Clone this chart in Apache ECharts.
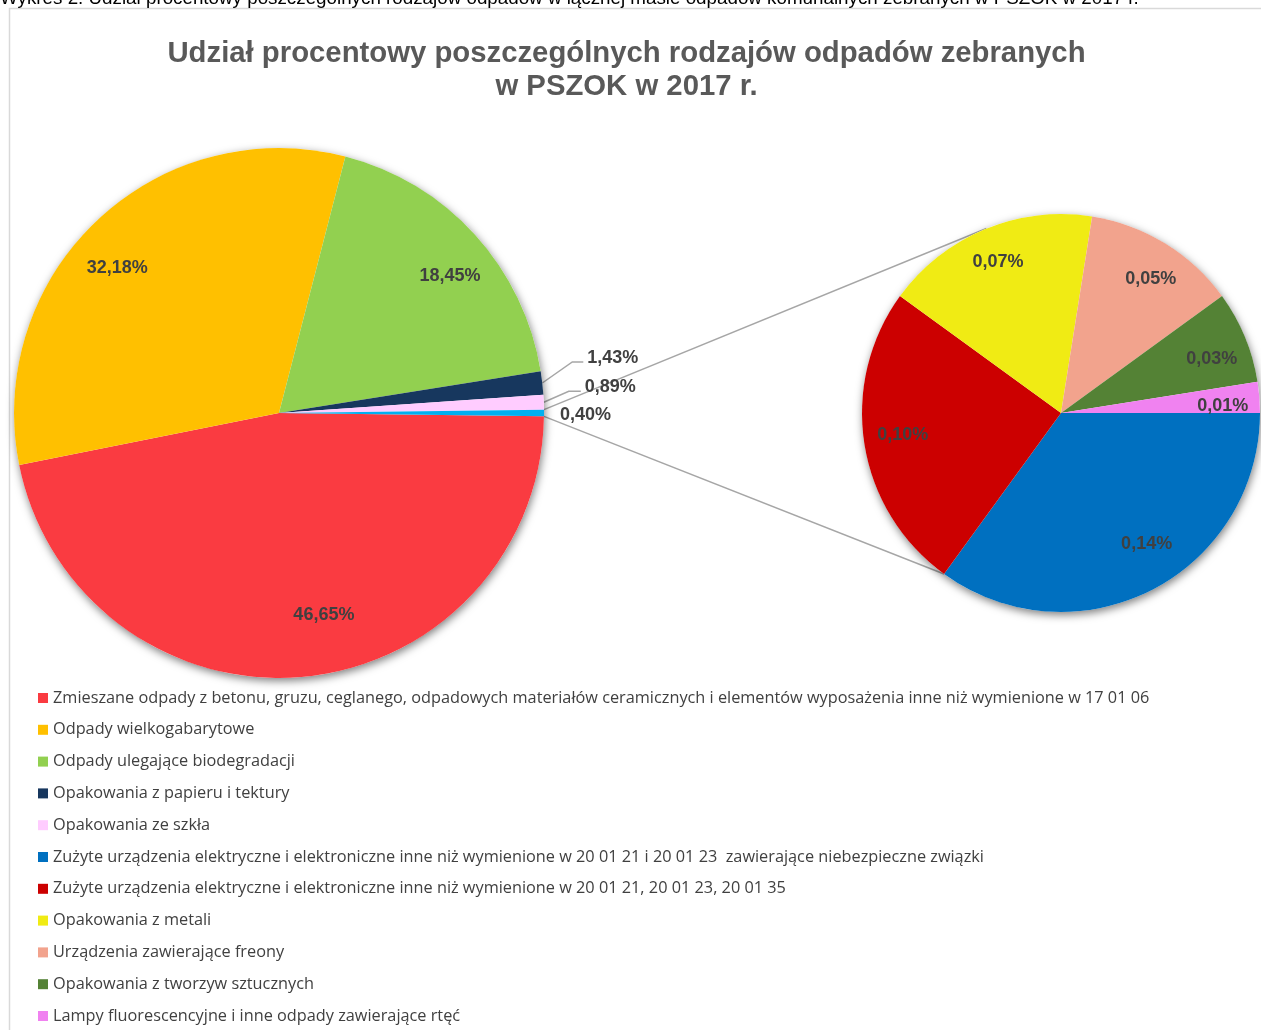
<!DOCTYPE html>
<html><head><meta charset="utf-8">
<script src="https://cdn.jsdelivr.net/npm/echarts@6/dist/echarts.min.js"></script>
<style>html,body{margin:0;padding:0;background:#fff}#c{width:1261px;height:1030px}</style>
</head><body><div id="c"></div>
<script>
// ---------- DATA ----------
const mainNames = [
  'Zmieszane odpady z betonu, gruzu, ceglanego, odpadowych materiałów ceramicznych i elementów wyposażenia inne niż wymienione w 17 01 06',
  'Odpady wielkogabarytowe',
  'Odpady ulegające biodegradacji',
  'Opakowania z papieru i tektury',
  'Opakowania ze szkła'
];
const mainValues = [46.65, 32.18, 18.45, 1.43, 0.89];
const mainColors = ['#FA3B41', '#FFC000', '#92D050', '#17375E', '#FFCCFF'];
const otherName = 'Pozostałe';
const otherColor = '#00B0F0';

const subNames = [
  'Zużyte urządzenia elektryczne i elektroniczne inne niż wymienione w 20 01 21 i 20 01 23  zawierające niebezpieczne związki',
  'Zużyte urządzenia elektryczne i elektroniczne inne niż wymienione w 20 01 21, 20 01 23, 20 01 35',
  'Opakowania z metali',
  'Urządzenia zawierające freony',
  'Opakowania z tworzyw sztucznych',
  'Lampy fluorescencyjne i inne odpady zawierające rtęć'
];
const subValues = [0.14, 0.10, 0.07, 0.05, 0.03, 0.01];
const subColors = ['#0070C0', '#CC0000', '#F0EB14', '#F2A38D', '#548235', '#F082F0'];

const titleText = 'Udział procentowy poszczególnych rodzajów odpadów zebranych\nw PSZOK w 2017 r.';
const captionText = 'Wykres 2. Udział procentowy poszczególnych rodzajów odpadów w łącznej masie odpadów komunalnych zebranych w PSZOK w 2017 r.';

// ---------- STYLE ----------
const FONT = '"Liberation Sans", Arial, sans-serif';
const R1 = 265, R2 = 199;
const C1 = [279, 413], C2 = [1061, 413];
const lblStyle = { fontFamily: FONT, fontWeight: 'bold', fontSize: 18, color: '#404040' };
const lineColor = '#A6A6A6';
const shadowItem = { color: '#fff', shadowBlur: 9, shadowOffsetX: 1, shadowOffsetY: 3, shadowColor: 'rgba(0,0,0,0.5)' };
// label nudges (best-fit placement as in the original)
const mainInsideNudge = { 0: [25, -12], 1: [-14, 11], 2: [12, 8] };
const subInsideNudge = { 0: [12, -13], 1: [2, -3], 2: [-1, -1], 3: [5, 4], 4: [1, 8], 5: [0, 6] };
// outside labels: [elbow dx, elbow dy, horizontal segment]
const mainOutsideLine = { 3: [30, -21, 11], 4: [25, -11, 12] };
const mainOutsideNoLine = { 5: [16, 2] };
const subTopDeg = 248, subBottomDeg = 126; // where the connector lines meet the secondary pie

// ---------- BUILD ----------
const fmt = v => v.toFixed(2).replace('.', ',') + '%';
const otherVal = +subValues.reduce((a, b) => a + b, 0).toFixed(2);
const mainAllValues = mainValues.concat([otherVal]);
const mainAllNames = mainNames.concat([otherName]);
const mainAllColors = mainColors.concat([otherColor]);
const mainTotal = mainAllValues.reduce((a, b) => a + b, 0);
const mainStart = -(otherVal / mainTotal * 360) / 2;
const RAD = Math.PI / 180;

// screen angles (clockwise, radians) of each main slice, same rule as the pie layout
function sliceAngles(idx) {
  let acc = 0;
  for (let i = 0; i < idx; i++) acc += mainAllValues[i];
  const a0 = (-mainStart + acc / mainTotal * 360) * RAD;
  const a1 = (-mainStart + (acc + mainAllValues[idx]) / mainTotal * 360) * RAD;
  return [a0, a1];
}
function pt(c, r, a) { return [c[0] + r * Math.cos(a), c[1] + r * Math.sin(a)]; }
function midEdge(idx) { const a = sliceAngles(idx); return pt(C1, R1, (a[0] + a[1]) / 2); }

// graphic: frame, caption, connector lines, leader lines
const graphics = [
  { type: 'rect', z: 0, silent: true, shape: { x: 9.5, y: 8.5, width: 1400, height: 1200 },
    style: { fill: 'none', stroke: '#D9D9D9', lineWidth: 1.5 } },
  { type: 'text', x: 0, y: -10.5, z: 10, silent: true,
    style: { text: captionText, font: '18.8px "Liberation Sans", Arial, sans-serif', fill: '#000' } }
];
const oa = sliceAngles(mainAllValues.length - 1);
const p1 = pt(C1, R1, oa[0]), p2 = pt(C1, R1, oa[1]);
const q1 = pt(C2, R2, subTopDeg * RAD), q2 = pt(C2, R2, subBottomDeg * RAD);
graphics.push(
  { type: 'line', z: 0, silent: true, shape: { x1: p1[0], y1: p1[1], x2: q1[0], y2: q1[1] }, style: { stroke: lineColor, lineWidth: 1.5 } },
  { type: 'line', z: 0, silent: true, shape: { x1: p2[0], y1: p2[1], x2: q2[0], y2: q2[1] }, style: { stroke: lineColor, lineWidth: 1.5 } }
);
const leaderEnds = {};
Object.keys(mainOutsideLine).forEach(k => {
  const o = mainOutsideLine[k];
  const s = midEdge(+k);
  const e = [s[0] + o[0], s[1] + o[1]];
  const f = [e[0] + o[2], e[1]];
  leaderEnds[k] = f;
  graphics.push({ type: 'polyline', z: 0, silent: true, shape: { points: [s, e, f] },
    style: { stroke: lineColor, lineWidth: 1.5, fill: 'none' } });
});

const chart = echarts.init(document.getElementById('c'), null, { renderer: 'canvas' });

const option = {
  animation: false,
  backgroundColor: '#fff',
  title: {
    text: titleText, left: 626.5, top: 37, padding: 0, textAlign: 'center',
    textStyle: { fontFamily: FONT, fontWeight: 'bold', fontSize: 29.3, lineHeight: 33, color: '#595959' }
  },
  legend: {
    orient: 'vertical', left: 38, top: 688, height: 360, padding: 0,
    itemWidth: 10, itemHeight: 10, itemGap: 11.8, icon: 'rect', selectedMode: false,
    data: mainNames.concat(subNames),
    textStyle: { fontFamily: '"Open Sans", sans-serif', fontSize: 16.3, lineHeight: 20, color: '#404040' }
  },
  graphic: graphics,
  series: [
    { // shadow disc behind main pie
      type: 'pie', center: C1, radius: [0, R1], silent: true, z: 1,
      label: { show: false }, labelLine: { show: false }, emphasis: { disabled: true },
      data: [{ value: 1, name: '', itemStyle: shadowItem }]
    },
    { // shadow disc behind secondary pie
      type: 'pie', center: C2, radius: [0, R2], silent: true, z: 1,
      label: { show: false }, labelLine: { show: false }, emphasis: { disabled: true },
      data: [{ value: 1, name: '', itemStyle: shadowItem }]
    },
    { // main pie
      id: 'main', type: 'pie', center: C1, radius: [0, R1], startAngle: mainStart, clockwise: true,
      silent: true, z: 3, avoidLabelOverlap: false, emphasis: { disabled: true },
      label: Object.assign({ show: false, position: 'outside', formatter: p => fmt(p.value) }, lblStyle),
      labelLine: { show: false },
      labelLayout: function (p) {
        const f = leaderEnds[p.dataIndex];
        if (f) {
          return { x: f[0] + 4, y: f[1] - 4, align: 'left', verticalAlign: 'middle' };
        }
        const n = mainOutsideNoLine[p.dataIndex];
        if (n) {
          const s = midEdge(p.dataIndex);
          return { x: s[0] + n[0], y: s[1] + n[1], align: 'left', verticalAlign: 'middle' };
        }
        return {};
      },
      data: mainAllValues.map((v, i) => ({
        value: v, name: mainAllNames[i], itemStyle: { color: mainAllColors[i] }, label: { show: v < 5 }
      }))
    },
    { // secondary pie
      id: 'sub', type: 'pie', center: C2, radius: [0, R2], startAngle: 0, clockwise: true,
      silent: true, z: 3, emphasis: { disabled: true },
      label: { show: false }, labelLine: { show: false },
      data: subValues.map((v, i) => ({ value: v, name: subNames[i], itemStyle: { color: subColors[i] } }))
    },
    { // label ring for main pie (inside labels of large slices)
      type: 'pie', center: C1, radius: [R1 * 0.6, R1], startAngle: mainStart, clockwise: true,
      silent: true, z: 4, emphasis: { disabled: true },
      itemStyle: { color: 'rgba(0,0,0,0)' },
      label: Object.assign({ position: 'inside', formatter: p => fmt(p.value) }, lblStyle),
      labelLine: { show: false },
      labelLayout: p => { const d = mainInsideNudge[p.dataIndex]; return d ? { dx: d[0], dy: d[1] } : {}; },
      data: mainAllValues.map((v, i) => ({ value: v, name: mainAllNames[i], label: { show: v >= 5 } }))
    },
    { // label ring for secondary pie
      type: 'pie', center: C2, radius: [R2 * 0.6, R2], startAngle: 0, clockwise: true,
      silent: true, z: 4, emphasis: { disabled: true },
      itemStyle: { color: 'rgba(0,0,0,0)' },
      label: Object.assign({ position: 'inside', formatter: p => fmt(p.value) }, lblStyle),
      labelLine: { show: false },
      labelLayout: p => { const d = subInsideNudge[p.dataIndex]; return d ? { dx: d[0], dy: d[1] } : {}; },
      data: subValues.map((v, i) => ({ value: v, name: subNames[i] }))
    }
  ]
};
chart.setOption(option);
</script>
</body></html>
